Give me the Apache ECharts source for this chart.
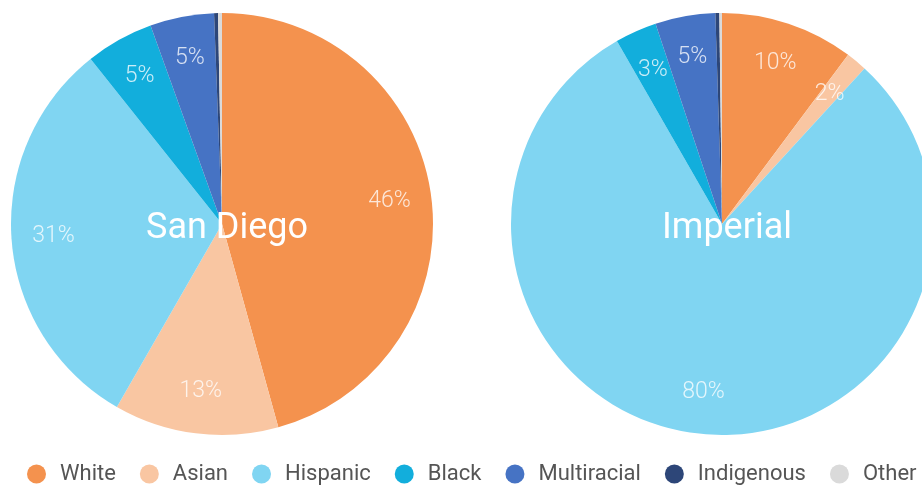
<!DOCTYPE html>
<html><head><meta charset="utf-8">
<script src="https://cdn.jsdelivr.net/npm/echarts@6/dist/echarts.min.js"></script>
<style>html,body{margin:0;padding:0;background:#fff}#c{width:922px;height:490px}</style>
</head><body><div id="c"></div>
<script>
const categories = ['White','Asian','Hispanic','Black','Multiracial','Indigenous','Other'];
const colors = ['#F4924E','#F9C6A2','#80D5F2','#12AEDC','#4673C4','#2D4678','#DADADA'];
const sanDiego = [45.7, 12.6, 31.0, 5.2, 4.9, 0.3, 0.3];
const imperial = [10.2, 1.6, 79.9, 3.2, 4.6, 0.3, 0.2];
const regions = ['San Diego','Imperial'];

const centers = [[222,224],[722,224]];
const R = 211;
const chart = echarts.init(document.getElementById('c'));
function mk(vals){ return categories.map((n,i)=>({name:n,value:vals[i]})); }
const series = [];
[sanDiego, imperial].forEach((vals,k)=>{
  series.push({
    type:'pie', center:centers[k], radius:[0,R], startAngle:90, clockwise:true,
    data:mk(vals), label:{show:false}, labelLine:{show:false}, emphasis:{disabled:true},
    itemStyle:{borderWidth:0}, animation:false
  });
  series.push({
    type:'pie', center:centers[k], radius:[121,R], startAngle:90, clockwise:true,
    data:mk(vals), silent:true, emphasis:{disabled:true}, animation:false,
    itemStyle:{color:'rgba(0,0,0,0)'}, labelLine:{show:false},
    label:{show:true, position:'inside', color:'rgba(255,255,255,0.78)', fontFamily:'Roboto', fontWeight:300, fontSize:23,
      formatter:p=> p.percent>=1 ? Math.round(p.percent)+'%' : ''}
  });
});
chart.setOption({
  animation:false,
  color:colors,
  title: regions.map((t,k)=>({text:t, left:centers[k][0], top:224, textAlign:'center', textVerticalAlign:'middle',
    textStyle:{color:'#fff', fontFamily:'Roboto', fontWeight:400, fontSize:36}})),
  legend:{top:458, left:22, width:900, icon:'circle', itemWidth:19, itemHeight:19, itemGap:24,
    data:categories, textStyle:{color:'#555', fontFamily:'Roboto', fontSize:22, padding:[0,0,0,9]}},
  series
});
</script></body></html>
